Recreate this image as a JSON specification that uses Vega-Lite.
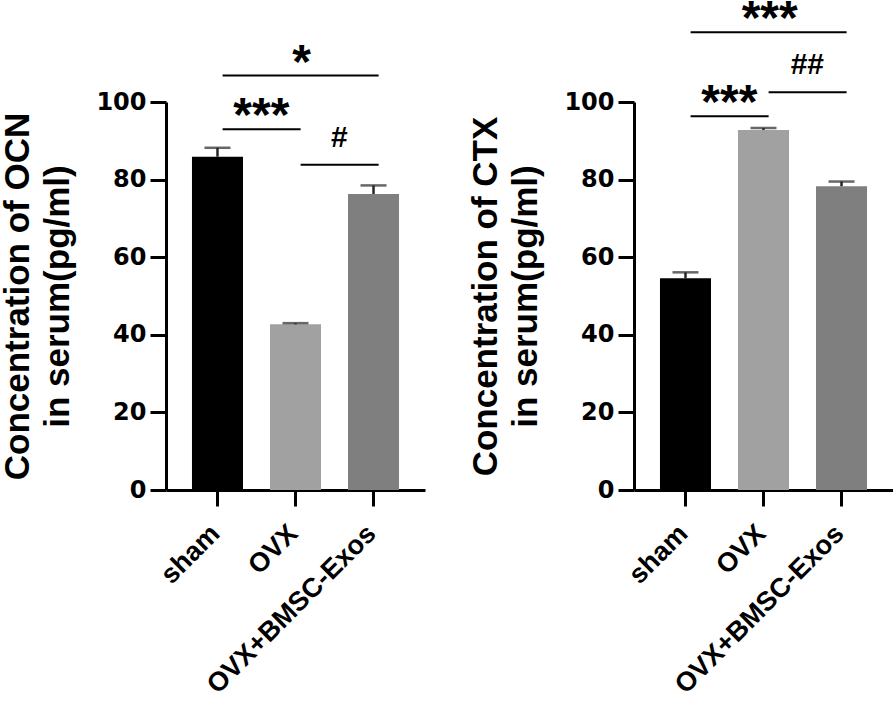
{
  "$schema": "https://vega.github.io/schema/vega-lite/v6.json",
  "padding": {"left": 0, "top": -4, "right": 0, "bottom": 0},
  "bounds": "flush",
  "spacing": 209,
  "config": {
    "view": {"stroke": null},
    "font": "Liberation Sans",
    "axis": {
      "grid": false,
      "domainColor": "#000000",
      "domainWidth": 3,
      "tickColor": "#000000",
      "tickWidth": 3,
      "tickSize": 16,
      "labelColor": "#000000",
      "labelFont": "Liberation Sans",
      "labelFontWeight": "bold",
      "labelLimit": 0,
      "titleColor": "#000000",
      "titleFont": "Liberation Sans",
      "titleFontWeight": "bold",
      "titleFontSize": 35,
      "titleLineHeight": 40
    },
    "axisY": {
      "labelFont": "DejaVu Sans",
      "labelFontSize": 24,
      "labelPadding": 4,
      "titlePadding": 20,
      "labelFlush": false,
      "labelOverlap": false
    },
    "axisX": {
      "labelFontSize": 27,
      "labelAngle": -45,
      "labelPadding": 14,
      "labelOffset": -11,
      "labelOverlap": false,
      "title": null
    }
  },
  "datasets": {
    "bars": [
      {"panel": "OCN", "group": "sham", "mean": 85.9, "upper": 88.2},
      {"panel": "OCN", "group": "OVX", "mean": 42.7, "upper": 43.0},
      {"panel": "OCN", "group": "OVX+BMSC-Exos", "mean": 76.3, "upper": 78.5},
      {"panel": "CTX", "group": "sham", "mean": 54.6, "upper": 56.1},
      {"panel": "CTX", "group": "OVX", "mean": 92.8, "upper": 93.3},
      {"panel": "CTX", "group": "OVX+BMSC-Exos", "mean": 78.3, "upper": 79.5}
    ],
    "sig": [
      {"panel": "OCN", "from": "sham", "to": "OVX+BMSC-Exos", "y": 106.8, "label": "*", "kind": "star"},
      {"panel": "OCN", "from": "sham", "to": "OVX", "y": 93.0, "label": "***", "kind": "star"},
      {"panel": "OCN", "from": "OVX", "to": "OVX+BMSC-Exos", "y": 83.8, "label": "#", "kind": "hash"},
      {"panel": "CTX", "from": "sham", "to": "OVX+BMSC-Exos", "y": 118.0, "label": "***", "kind": "star"},
      {"panel": "CTX", "from": "sham", "to": "OVX", "y": 96.3, "label": "***", "kind": "star"},
      {"panel": "CTX", "from": "OVX", "to": "OVX+BMSC-Exos", "y": 102.5, "label": "##", "kind": "hash"}
    ]
  },
  "hconcat": [
    {
      "width": 259,
      "height": 388,
      "layer": [
        {
          "data": {"name": "bars"},
          "transform": [{"filter": "datum.panel === 'OCN'"}],
          "mark": {"type": "bar"},
          "encoding": {
            "x": {"field": "group", "type": "nominal", "sort": null,
                  "scale": {"type": "band", "domain": ["sham", "OVX", "OVX+BMSC-Exos"], "paddingInner": 0.346, "paddingOuter": 0.333},
                  "axis": {"title": null}},
            "y": {"field": "mean", "type": "quantitative",
                  "scale": {"domain": [0, 100], "nice": false},
                  "axis": {"values": [0, 20, 40, 60, 80, 100], "title": ["Concentration of OCN", "in serum(pg/ml)"]}},
            "color": {"field": "group", "type": "nominal",
                      "scale": {"domain": ["sham", "OVX", "OVX+BMSC-Exos"], "range": ["#000000", "#a1a1a1", "#7f7f7f"]},
                      "legend": null}
          }
        },
        {
          "data": {"name": "bars"},
          "transform": [{"filter": "datum.panel === 'OCN'"}],
          "mark": {"type": "rule", "strokeWidth": 2.5, "color": "#262626"},
          "encoding": {
            "x": {"field": "group", "type": "nominal", "sort": null},
            "y": {"field": "mean", "type": "quantitative"},
            "y2": {"field": "upper"}
          }
        },
        {
          "data": {"name": "bars"},
          "transform": [{"filter": "datum.panel === 'OCN'"}],
          "mark": {"type": "tick", "size": 26, "thickness": 2.5, "color": "#262626"},
          "encoding": {
            "x": {"field": "group", "type": "nominal", "sort": null},
            "y": {"field": "upper", "type": "quantitative"}
          }
        },
        {
          "data": {"name": "sig"},
          "transform": [{"filter": "datum.panel === 'OCN'"}],
          "mark": {"type": "rule", "strokeWidth": 2, "color": "#000000"},
          "encoding": {
            "x": {"field": "from", "type": "nominal", "bandPosition": 0.6},
            "x2": {"field": "to", "bandPosition": 0.6},
            "y": {"field": "y", "type": "quantitative"}
          }
        },
        {
          "data": {"name": "sig"},
          "transform": [{"filter": "datum.panel === 'OCN' && datum.kind === 'star' && datum.to === 'OVX+BMSC-Exos'"}],
          "mark": {"type": "text", "fontSize": 48, "fontWeight": "bold", "dy": 2, "baseline": "alphabetic", "align": "center", "color": "#000000"},
          "encoding": {
            "x": {"field": "from", "type": "nominal", "bandPosition": 2.15},
            "y": {"field": "y", "type": "quantitative"},
            "text": {"field": "label"}
          }
        },
        {
          "data": {"name": "sig"},
          "transform": [{"filter": "datum.panel === 'OCN' && datum.kind === 'star' && datum.to === 'OVX'"}],
          "mark": {"type": "text", "fontSize": 48, "fontWeight": "bold", "dy": 2, "baseline": "alphabetic", "align": "center", "color": "#000000"},
          "encoding": {
            "x": {"field": "from", "type": "nominal", "bandPosition": 1.36},
            "y": {"field": "y", "type": "quantitative"},
            "text": {"field": "label"}
          }
        },
        {
          "data": {"name": "sig"},
          "transform": [{"filter": "datum.panel === 'OCN' && datum.kind === 'hash'"}],
          "mark": {"type": "text", "fontSize": 30, "fontWeight": "bold", "dy": -18, "baseline": "alphabetic", "align": "center", "color": "#000000"},
          "encoding": {
            "x": {"field": "from", "type": "nominal", "bandPosition": 1.36},
            "y": {"field": "y", "type": "quantitative"},
            "text": {"field": "label"}
          }
        }
      ]
    },
    {
      "width": 259,
      "height": 388,
      "layer": [
        {
          "data": {"name": "bars"},
          "transform": [{"filter": "datum.panel === 'CTX'"}],
          "mark": {"type": "bar"},
          "encoding": {
            "x": {"field": "group", "type": "nominal", "sort": null,
                  "scale": {"type": "band", "domain": ["sham", "OVX", "OVX+BMSC-Exos"], "paddingInner": 0.346, "paddingOuter": 0.333},
                  "axis": {"title": null}},
            "y": {"field": "mean", "type": "quantitative",
                  "scale": {"domain": [0, 100], "nice": false},
                  "axis": {"values": [0, 20, 40, 60, 80, 100], "title": ["Concentration of CTX", "in serum(pg/ml)"]}},
            "color": {"field": "group", "type": "nominal",
                      "scale": {"domain": ["sham", "OVX", "OVX+BMSC-Exos"], "range": ["#000000", "#a1a1a1", "#7f7f7f"]},
                      "legend": null}
          }
        },
        {
          "data": {"name": "bars"},
          "transform": [{"filter": "datum.panel === 'CTX'"}],
          "mark": {"type": "rule", "strokeWidth": 2.5, "color": "#262626"},
          "encoding": {
            "x": {"field": "group", "type": "nominal", "sort": null},
            "y": {"field": "mean", "type": "quantitative"},
            "y2": {"field": "upper"}
          }
        },
        {
          "data": {"name": "bars"},
          "transform": [{"filter": "datum.panel === 'CTX'"}],
          "mark": {"type": "tick", "size": 26, "thickness": 2.5, "color": "#262626"},
          "encoding": {
            "x": {"field": "group", "type": "nominal", "sort": null},
            "y": {"field": "upper", "type": "quantitative"}
          }
        },
        {
          "data": {"name": "sig"},
          "transform": [{"filter": "datum.panel === 'CTX'"}],
          "mark": {"type": "rule", "strokeWidth": 2, "color": "#000000"},
          "encoding": {
            "x": {"field": "from", "type": "nominal", "bandPosition": 0.6},
            "x2": {"field": "to", "bandPosition": 0.6},
            "y": {"field": "y", "type": "quantitative"}
          }
        },
        {
          "data": {"name": "sig"},
          "transform": [{"filter": "datum.panel === 'CTX' && datum.kind === 'star' && datum.to === 'OVX+BMSC-Exos'"}],
          "mark": {"type": "text", "fontSize": 48, "fontWeight": "bold", "dy": 2, "baseline": "alphabetic", "align": "center", "color": "#000000"},
          "encoding": {
            "x": {"field": "from", "type": "nominal", "bandPosition": 2.15},
            "y": {"field": "y", "type": "quantitative"},
            "text": {"field": "label"}
          }
        },
        {
          "data": {"name": "sig"},
          "transform": [{"filter": "datum.panel === 'CTX' && datum.kind === 'star' && datum.to === 'OVX'"}],
          "mark": {"type": "text", "fontSize": 48, "fontWeight": "bold", "dy": 2, "baseline": "alphabetic", "align": "center", "color": "#000000"},
          "encoding": {
            "x": {"field": "from", "type": "nominal", "bandPosition": 1.36},
            "y": {"field": "y", "type": "quantitative"},
            "text": {"field": "label"}
          }
        },
        {
          "data": {"name": "sig"},
          "transform": [{"filter": "datum.panel === 'CTX' && datum.kind === 'hash'"}],
          "mark": {"type": "text", "fontSize": 30, "fontWeight": "bold", "dy": -18, "baseline": "alphabetic", "align": "center", "color": "#000000"},
          "encoding": {
            "x": {"field": "from", "type": "nominal", "bandPosition": 1.36},
            "y": {"field": "y", "type": "quantitative"},
            "text": {"field": "label"}
          }
        }
      ]
    }
  ]
}
